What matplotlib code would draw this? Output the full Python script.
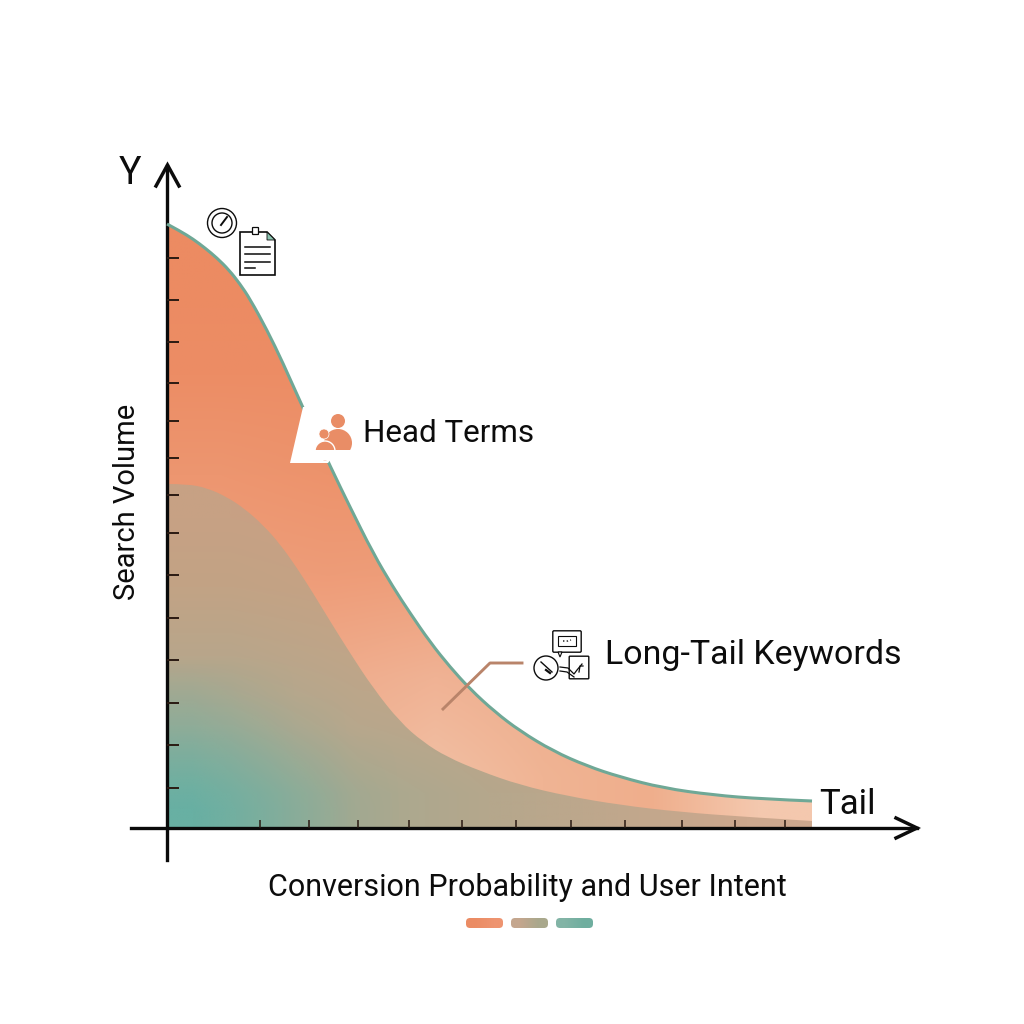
import matplotlib
matplotlib.use("Agg")
import matplotlib.pyplot as plt
import numpy as np
from matplotlib.colors import to_rgb
from matplotlib.patches import Circle, Polygon, FancyBboxPatch, PathPatch, Rectangle
from matplotlib.path import Path

# curves (pixels right of / above the origin)
head_x = [0, 13, 26, 38, 50, 62, 73, 83, 100, 116, 136, 165, 183, 206, 226, 243, 263, 283, 303, 328, 353, 386, 420, 453, 496, 546, 596, 645]
head_y = [604, 597, 589, 580, 570, 558, 544, 529, 498, 465, 420, 358, 321, 275, 241, 215, 186, 161, 139, 116, 97, 77, 62, 51, 40, 33, 29, 27]
tail_x = [0, 20, 40, 60, 78, 96, 113, 130, 146, 163, 183, 206, 233, 256, 280, 313, 353, 400, 453, 513, 580, 645]
tail_y = [344, 344, 340, 331, 319, 303, 284, 260, 235, 207, 175, 140, 106, 86, 71, 57, 43, 32, 23, 16, 11, 7]

y_ticks = [40, 83, 125, 168, 210, 253, 295, 333, 370, 407, 445, 486, 528, 570]
x_ticks = [93, 142, 191, 242, 295, 349, 404, 458, 515, 568, 618]

legend_colors = [["#EB8C64", "#EE9470"], ["#C4A68E", "#A9A88C"], ["#82B4A6", "#6FAE9F"]]

head_grid = [["#EC8B62", "#EC8B62", "#EC8B62", "#EC8B62", "#EC8B62", "#EC8B62"],
             ["#EC8D65", "#EC8D65", "#EC8D65", "#EC9068", "#EC9068", "#EC9068"],
             ["#ED9670", "#ED936C", "#EC916A", "#ED9670", "#ED9670", "#ED9670"],
             ["#EE9E7A", "#EE9C78", "#EE9E7A", "#EEA27E", "#EFA684", "#EFA684"],
             ["#EFA888", "#EFAC8C", "#F0B294", "#EFAE8E", "#EEAA88", "#EFAA88"],
             ["#F0B496", "#F0B496", "#F1C0A4", "#F0B494", "#EFAE8C", "#F4C8AE"]]
tail_grid = [["#C7A184", "#C9A084", "#C9A084", "#C9A084", "#C9A084"],
             ["#C2A385", "#C6A284", "#C8A283", "#C8A283", "#C8A283"],
             ["#B8A68B", "#C0A588", "#C4A588", "#C4A588", "#C4A588"],
             ["#A8AA92", "#B8A78C", "#BEA68A", "#C2A68A", "#C6A68A"],
             ["#8AAE9B", "#A8A990", "#B5A78C", "#C0A78C", "#CCA88E"]]
# teal corner at the origin, strength over the lower left
teal_alpha = [[0, 0, 0, 0, 0],
              [.22, .08, 0, 0, 0],
              [.42, .25, .08, 0, 0],
              [.68, .42, .2, .05, 0],
              [1, .6, .32, .1, 0]]

plt.rcParams["font.family"] = ["Roboto", "DejaVu Sans"]

fig = plt.figure(figsize=(10.24, 10.24), dpi=100)
ax = fig.add_axes([0, 0, 1, 1])


def grid_rgb(grid):
    return np.array([[to_rgb(c) for c in row] for row in grid])


def smooth_path(xs, ys, close_to=None):
    # quadratic segments through the midpoints so the read points dont show as kinks
    pts = np.column_stack([xs, ys])
    verts = [pts[0]]
    codes = [Path.MOVETO]
    for i in range(1, len(pts) - 1):
        end = (pts[i] + pts[i + 1]) / 2 if i < len(pts) - 2 else pts[i + 1]
        verts += [pts[i], end]
        codes += [Path.CURVE3, Path.CURVE3]
    if close_to:
        for p in close_to:
            verts.append(p)
            codes.append(Path.LINETO)
        verts.append(pts[0])
        codes.append(Path.CLOSEPOLY)
    return Path(verts, codes)


# gradient fills clipped to the curves
for xs, ys, grid, top, z in [(head_x, head_y, head_grid, 604, 1), (tail_x, tail_y, tail_grid, 344, 2)]:
    im = ax.imshow(grid_rgb(grid), extent=(0, 645, 0, top), origin="upper", interpolation="bilinear",
                   aspect="auto", zorder=z)
    clip = PathPatch(smooth_path(xs, ys, [(645, 0), (0, 0)]), transform=ax.transData, fc="none", ec="none")
    ax.add_patch(clip)
    im.set_clip_path(clip)
teal = np.zeros((5, 5, 4))
teal[..., :3] = to_rgb("#68B0A3")
teal[..., 3] = teal_alpha
ax.imshow(teal, extent=(0, 260, 0, 190), origin="upper", interpolation="bilinear", aspect="auto", zorder=2.5)
ax.add_patch(PathPatch(smooth_path(head_x, head_y), fc="none", ec="#6FA896", lw=2.2, zorder=3, capstyle="butt"))
ax.set_xlim(-167, 857)
ax.set_ylim(-196, 828)

for s in ["top", "right"]:
    ax.spines[s].set_visible(False)
ax.spines["left"].set_position(("data", 0))
ax.spines["bottom"].set_position(("data", 0))
ax.spines["left"].set_bounds(-32, 662)
ax.spines["bottom"].set_bounds(-36, 750)
ax.spines["left"].set_linewidth(2.4)
ax.spines["bottom"].set_linewidth(2.4)
ax.spines["left"].set_color("#0a0a0a")
ax.spines["bottom"].set_color("#0a0a0a")
ax.set_axisbelow(False)
ax.set_xticks(x_ticks)
ax.set_yticks(y_ticks)
ax.set_xticklabels([])
ax.set_yticklabels([])
ax.tick_params(axis="x", direction="in", length=6, width=1.1, color="#2a1a12")
ax.tick_params(axis="y", direction="in", length=8.5, width=1.4, color="#2a1a12")

# overlay in picture pixels for labels and small icons
ov = fig.add_axes([0, 0, 1, 1])
ov.axis("off")
ov.patch.set_alpha(0)

K = "#0c0c0c"
# arrow heads
ov.plot([156, 167.5, 179], [186, 165, 186], color=K, lw=2.5, solid_joinstyle="miter")
ov.plot([896, 917, 896], [818, 828, 838], color=K, lw=2.5, solid_joinstyle="miter")

# white notch behind the head terms label
ov.add_patch(Polygon([(303, 407), (290, 463), (328, 463), (345, 440), (345, 407)], fc="white", ec="none", zorder=4))

# gauge icon
ov.add_patch(Circle((222, 223), 14.5, fc="white", ec=K, lw=1.0, zorder=5))
ov.add_patch(Circle((222, 223), 10, fc="white", ec=K, lw=1.0, zorder=5))
ov.plot([221, 227], [225, 217], color=K, lw=1.4, zorder=6)
# document icon
ov.add_patch(Polygon([(240, 232), (267, 232), (275, 240), (275, 275), (240, 275)], fc="white", ec=K, lw=1.2, zorder=5))
ov.add_patch(Polygon([(267, 232), (275, 240), (267, 240)], fc="#8CC4B0", ec=K, lw=0.6, zorder=6))
ov.add_patch(FancyBboxPatch((253, 228), 5, 6, boxstyle="round,pad=0.5", fc="white", ec=K, lw=0.9, zorder=6))
for ly, rx in zip([247, 254, 262, 268], [270, 270, 270, 255]):
    ov.plot([245, rx], [ly, ly], color=K, lw=1.1, zorder=6)

# people icon
ORANGE = "#E98D66"
ov.add_patch(Circle((338, 421), 7, fc=ORANGE, ec="none", zorder=5))
ov.add_patch(Circle((338, 443), 14, fc=ORANGE, ec="none", zorder=5))
ov.add_patch(Circle((324, 434), 5, fc=ORANGE, ec="white", lw=0.5, zorder=6))
ov.add_patch(Circle((325, 451), 10, fc=ORANGE, ec="white", lw=1.0, zorder=6))
ov.add_patch(Rectangle((312, 450), 44, 10, fc="white", ec="none", zorder=7))

# leader line
ov.plot([443, 490, 522], [709, 663, 663], color="#B9846A", lw=2.1, zorder=5)

# long-tail icon
ov.add_patch(Circle((546, 668), 12, fc="white", ec=K, lw=1.0, zorder=5))
ov.plot([541, 552], [662, 672], color=K, lw=1.0, zorder=6)
ov.plot([546, 550], [670, 673], color=K, lw=1.6, zorder=6)
ov.add_patch(FancyBboxPatch((554, 632), 26, 19, boxstyle="round,pad=1.2", fc="white", ec=K, lw=1.0, zorder=5))
ov.add_patch(Polygon([(558, 652), (562, 652), (560, 657)], fc="white", ec=K, lw=0.8, zorder=5))
ov.add_patch(FancyBboxPatch((558, 636), 18, 10, boxstyle="square,pad=0", fc="white", ec=K, lw=0.8, zorder=6))
ov.plot([563, 568, 571], [641, 641, 640], color=K, lw=1.0, ls=":", zorder=7)
ov.add_patch(FancyBboxPatch((570, 657), 18, 21, boxstyle="round,pad=0.8", fc="white", ec=K, lw=1.0, zorder=5))
ov.plot([560, 568, 574, 577, 582], [667, 668, 674, 670, 664], color=K, lw=0.9, zorder=6)
ov.plot([560, 567, 574], [671, 672, 677], color=K, lw=0.9, zorder=6)
ov.plot([579, 580, 583], [672, 666, 666], color=K, lw=0.9, zorder=6)

# text
ov.text(130, 174, "Y", fontsize=27, color=K, ha="center", va="center", zorder=8)
ov.text(127, 502, "Search Volume", fontsize=21, color=K, rotation=90, ha="center", va="center", zorder=8)
ov.text(449, 433, "Head Terms", fontsize=22.6, color=K, ha="center", va="center", zorder=8)
ov.text(753, 655, "Long-Tail Keywords", fontsize=24.4, color=K, ha="center", va="center", zorder=8)
ov.text(847, 804, "Tail", fontsize=25, color=K, ha="center", va="center", zorder=8)
ov.text(527, 888, "Conversion Probability and User Intent", fontsize=22, color=K, ha="center", va="center", zorder=8)

# little legend pills
for x0, cols in zip([466, 511, 556], legend_colors):
    im = ov.imshow(grid_rgb([cols]), extent=(x0, x0 + 37, 928, 918), interpolation="bilinear", aspect="auto", zorder=5)
    pill = FancyBboxPatch((x0 + 4, 922), 29, 2, boxstyle="round,pad=4", transform=ov.transData, fc="none", ec="none")
    ov.add_patch(pill)
    im.set_clip_path(pill)
ov.set_xlim(0, 1024)
ov.set_ylim(1024, 0)

fig.savefig("out.png", dpi=100, facecolor="white")
